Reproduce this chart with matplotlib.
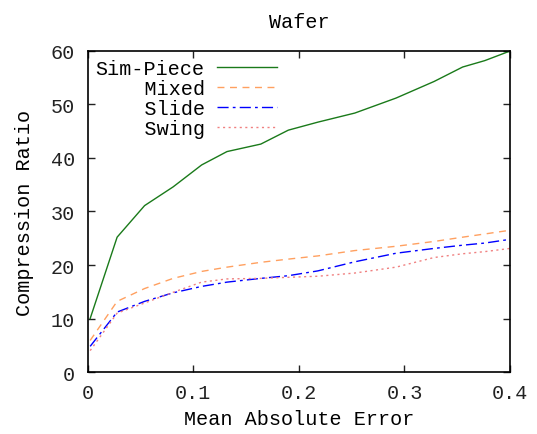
import matplotlib.pyplot as plt

plt.rcParams['font.family'] = ['Liberation Mono', 'DejaVu Sans Mono']

mae = [0.0025, 0.028, 0.054, 0.081, 0.108, 0.132, 0.164, 0.190, 0.218,
       0.253, 0.292, 0.328, 0.355, 0.376, 0.400]

sim_piece = [10.0, 25.2, 31.1, 34.6, 38.7, 41.2, 42.6, 45.2, 46.7,
             48.4, 51.2, 54.3, 57.0, 58.2, 60.0]
mixed = [5.9, 13.2, 15.6, 17.5, 18.8, 19.6, 20.5, 21.1, 21.7,
         22.7, 23.5, 24.4, 25.2, 25.8, 26.5]
slide = [4.8, 11.2, 13.2, 14.8, 16.0, 16.8, 17.5, 18.0, 18.9,
         20.6, 22.2, 23.1, 23.7, 24.1, 24.8]
swing = [4.0, 11.0, 12.9, 14.9, 16.8, 17.4, 17.5, 17.7, 17.9,
         18.5, 19.6, 21.4, 22.1, 22.5, 23.1]

fig = plt.figure(figsize=(5.37, 4.35), dpi=100)
ax = fig.add_axes([0.163, 0.1425, 0.787, 0.738])

fs = 14.5
ax.plot(mae, sim_piece, color='#1a7a1a', lw=1.0, label='Sim-Piece')
ax.plot(mae, mixed, color='#ffa060', lw=1.0, dashes=(5, 4), label='    Mixed')
ax.plot(mae, slide, color='#0000ff', lw=1.0, dashes=(8, 3, 2, 3), label='    Slide')
ax.plot(mae, swing, color='#f08080', lw=1.0, dashes=(1.5, 2.5), label='    Swing')

ax.set_xlim(0, 0.4)
ax.set_ylim(0, 60)
ax.set_xticks([0, 0.1, 0.2, 0.3, 0.4])
ax.set_xticklabels(['0', '0.1', '0.2', '0.3', '0.4'])
ax.set_yticks(range(0, 61, 10))
ax.tick_params(direction='in', top=True, right=True, length=5, width=1,
               labelsize=fs, colors='#222222')
ax.tick_params(axis='x', pad=8)
ax.tick_params(axis='y', pad=9)
for s in ax.spines.values():
    s.set_linewidth(1.2)

ax.set_title('Wafer', fontsize=fs, pad=17)
ax.set_xlabel('Mean Absolute Error', fontsize=fs, labelpad=5)
ax.set_ylabel('Compression Ratio', fontsize=fs, labelpad=12)

ax.legend(loc='upper left', markerfirst=False, frameon=False, fontsize=fs,
          handlelength=3.0, handletextpad=0.6, labelspacing=0.05,
          borderaxespad=0.0, bbox_to_anchor=(0.0, 1.0))

fig.savefig('out.png', dpi=100)
